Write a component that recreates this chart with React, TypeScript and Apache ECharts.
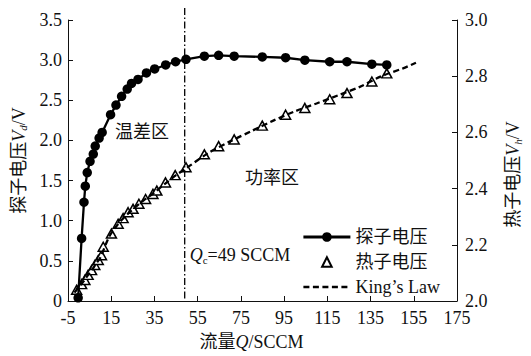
import { useEffect, useRef } from "react";
import * as echarts from "echarts";

// Probe voltage V_d (left axis) against flow Q
const probeFlow = [-0.3, 1.3, 2.4, 3.0, 3.9, 5.2, 6.7, 7.6, 9.4, 10.8, 14.7, 17.2, 19.8, 22.4, 24.4, 27.4, 31.3, 35.1, 40.2, 44.8, 49.6, 58.1, 64.7, 71.9, 84.9, 95.7, 104.6, 116.1, 124.1, 135.6, 142.5];
const probeVolt = [0.04, 0.78, 1.23, 1.43, 1.6, 1.74, 1.83, 1.93, 2.03, 2.1, 2.32, 2.44, 2.55, 2.64, 2.71, 2.76, 2.84, 2.89, 2.94, 2.98, 3.01, 3.05, 3.06, 3.05, 3.04, 3.03, 3.0, 2.98, 2.98, 2.95, 2.94];

// Heater voltage V_h (right axis) against flow Q
const heaterFlow = [-1.0, 1.3, 2.8, 4.3, 5.9, 7.4, 9.0, 10.5, 11.3, 15.1, 18.2, 20.5, 22.8, 25.1, 27.8, 30.9, 34.3, 36.1, 40.1, 44.6, 49.6, 58.1, 64.7, 71.9, 84.9, 95.7, 104.6, 116.1, 124.1, 135.6, 142.5];
const heaterVolt = [2.04, 2.06, 2.075, 2.093, 2.11, 2.128, 2.146, 2.163, 2.193, 2.24, 2.275, 2.295, 2.316, 2.328, 2.346, 2.363, 2.381, 2.393, 2.422, 2.448, 2.476, 2.522, 2.551, 2.575, 2.624, 2.663, 2.687, 2.718, 2.74, 2.781, 2.81];

// King's Law fit curve (right axis)
const kingFlow = [-2, 0, 2, 4, 6, 8, 10, 14, 18, 22, 26, 30, 35, 40, 45, 50, 60, 70, 80, 90, 100, 110, 120, 130, 140, 150, 156];
const kingVolt = [2.03, 2.05, 2.068, 2.09, 2.11, 2.133, 2.155, 2.228, 2.272, 2.305, 2.333, 2.358, 2.386, 2.418, 2.448, 2.474, 2.527, 2.568, 2.605, 2.642, 2.675, 2.703, 2.732, 2.762, 2.8, 2.828, 2.848];

// Axis ticks
const flowTicks = [-5, 15, 35, 55, 75, 95, 115, 135, 155, 175];
const probeTicks = [0, 0.5, 1.0, 1.5, 2.0, 2.5, 3.0, 3.5];
const heaterTicks = [2.0, 2.2, 2.4, 2.6, 2.8, 3.0];

// Critical flow separating the two regimes
const criticalFlow = 49;
const regionNames = ["温差区", "功率区"];
const seriesNames = ["探子电压", "热子电压", "King’s Law"];

const FONT = "'Liberation Serif', 'Times New Roman', 'Noto Sans CJK SC', serif";
const INK = "#111";

const toPairs = (xs: number[], ys: number[]) => xs.map((x, i) => [x, ys[i]]);

export default function App() {
  const ref = useRef<HTMLDivElement>(null);

  useEffect(() => {
    document.body.style.margin = "0";
    if (!ref.current) return;
    const chart = echarts.init(ref.current, undefined, { renderer: "svg" });

    const labelStyle = { fontFamily: FONT, fontSize: 18, color: INK };
    const titleRich = {
      cn: { fontFamily: FONT, fontSize: 18, color: INK, lineHeight: 20 },
      it: { fontFamily: FONT, fontSize: 18, fontStyle: "italic", color: INK, lineHeight: 20 },
      sub: { fontFamily: FONT, fontSize: 11, fontStyle: "italic", color: INK, lineHeight: 12, verticalAlign: "bottom" },
    };
    const axisLine = { show: true, onZero: false, lineStyle: { color: INK, width: 1 } };
    const axisTick = { show: true, inside: true, length: 5, lineStyle: { color: INK, width: 1 } };

    chart.setOption({
      animation: false,
      backgroundColor: "#fff",
      grid: { left: 68, right: 72, top: 20, bottom: 53, containLabel: false },
      xAxis: {
        type: "value",
        min: flowTicks[0],
        max: flowTicks[flowTicks.length - 1],
        interval: flowTicks[1] - flowTicks[0],
        axisLine,
        axisTick,
        splitLine: { show: false },
        axisLabel: { ...labelStyle, margin: 8, formatter: (v: number) => String(v) },
        name: "{cn|流量}{it|Q}{cn|/SCCM}",
        nameLocation: "middle",
        nameGap: 31,
        nameTextStyle: { rich: titleRich, padding: [0, 22, 0, 0] },
      },
      yAxis: [
        {
          type: "value",
          position: "left",
          min: probeTicks[0],
          max: probeTicks[probeTicks.length - 1],
          interval: probeTicks[1] - probeTicks[0],
          axisLine,
          axisTick,
          splitLine: { show: false },
          axisLabel: { ...labelStyle, margin: 6, formatter: (v: number) => (v === 0 ? "0" : v.toFixed(1)) },
          name: "{cn|探子电压}{it|V}{sub|d}{cn|/V}",
          nameLocation: "middle",
          nameRotate: 90,
          nameGap: 34,
          nameTextStyle: { rich: titleRich },
        },
        {
          type: "value",
          position: "right",
          min: heaterTicks[0],
          max: heaterTicks[heaterTicks.length - 1],
          interval: 0.2,
          axisLine,
          axisTick,
          splitLine: { show: false },
          axisLabel: { ...labelStyle, margin: 8, formatter: (v: number) => v.toFixed(1) },
          name: "{cn|热子电压}{it|V}{sub|h}{cn|/V}",
          nameLocation: "middle",
          nameRotate: 90,
          nameGap: 46,
          nameTextStyle: { rich: titleRich, padding: [0, 28, 0, 0] },
        },
      ],
      legend: {
        orient: "vertical",
        left: 302,
        top: 228,
        padding: 0,
        itemWidth: 47,
        itemHeight: 12,
        itemGap: 7,
        textStyle: { fontFamily: FONT, fontSize: 18, color: INK },
        data: [
          { name: seriesNames[0], lineStyle: { width: 2.8 } },
          { name: seriesNames[1] },
          { name: seriesNames[2], lineStyle: { width: 2.6 }, itemStyle: { opacity: 0 } },
        ],
      },
      series: [
        {
          name: seriesNames[0],
          type: "line",
          xAxisIndex: 0,
          yAxisIndex: 0,
          z: 4,
          data: toPairs(probeFlow, probeVolt),
          symbol: "circle",
          symbolSize: 9.5,
          showAllSymbol: true,
          lineStyle: { color: "#000", width: 2.3 },
          itemStyle: { color: "#000" },
        },
        {
          name: seriesNames[1],
          type: "line",
          xAxisIndex: 0,
          yAxisIndex: 1,
          z: 2,
          data: toPairs(heaterFlow, heaterVolt),
          symbol: "triangle",
          symbolSize: [10, 9],
          showAllSymbol: true,
          lineStyle: { width: 0, color: "#000" },
          itemStyle: { color: "#fff", borderColor: "#000", borderWidth: 1.5 },
        },
        {
          name: seriesNames[2],
          type: "line",
          xAxisIndex: 0,
          yAxisIndex: 1,
          z: 3,
          data: toPairs(kingFlow, kingVolt),
          symbol: "none",
          smooth: 0.3,
          lineStyle: { color: "#000", width: 2.3, type: [6, 3.5] },
          itemStyle: { color: "#000" },
        },
      ],
    });

    // Reference line at the critical flow and the region annotations
    const xc = chart.convertToPixel({ xAxisIndex: 0 }, criticalFlow) as number;
    const yBase = chart.convertToPixel({ yAxisIndex: 0 }, 0) as number;
    chart.setOption({
      graphic: [
        {
          type: "line",
          z: 10,
          shape: { x1: xc, y1: 8, x2: xc, y2: yBase },
          style: { stroke: "#000", lineWidth: 1.3, lineDash: [7, 2.5, 1.5, 2.5] },
        },
        {
          type: "text",
          z: 10,
          x: 142,
          y: 132,
          style: { text: regionNames[0], fontFamily: FONT, fontSize: 18, fill: INK, align: "center", verticalAlign: "middle" },
        },
        {
          type: "text",
          z: 10,
          x: 272,
          y: 178,
          style: { text: regionNames[1], fontFamily: FONT, fontSize: 18, fill: INK, align: "center", verticalAlign: "middle" },
        },
        {
          type: "text",
          z: 10,
          x: xc + 5,
          y: 255,
          style: {
            text: `{i|Q}{s|c}{n|=${criticalFlow} SCCM}`,
            verticalAlign: "middle",
            rich: {
              i: { fontFamily: FONT, fontSize: 18, fontStyle: "italic", fill: INK, lineHeight: 20 },
              s: { fontFamily: FONT, fontSize: 11, fill: INK, lineHeight: 12, verticalAlign: "bottom" },
              n: { fontFamily: FONT, fontSize: 18, fill: INK, lineHeight: 20 },
            },
          },
        },
      ],
    });

    return () => chart.dispose();
  }, []);

  return (
    <div style={{ position: "fixed", left: 0, top: 0, width: 531, height: 356, background: "#fff" }}>
      <div ref={ref} style={{ width: 531, height: 356 }} />
    </div>
  );
}
